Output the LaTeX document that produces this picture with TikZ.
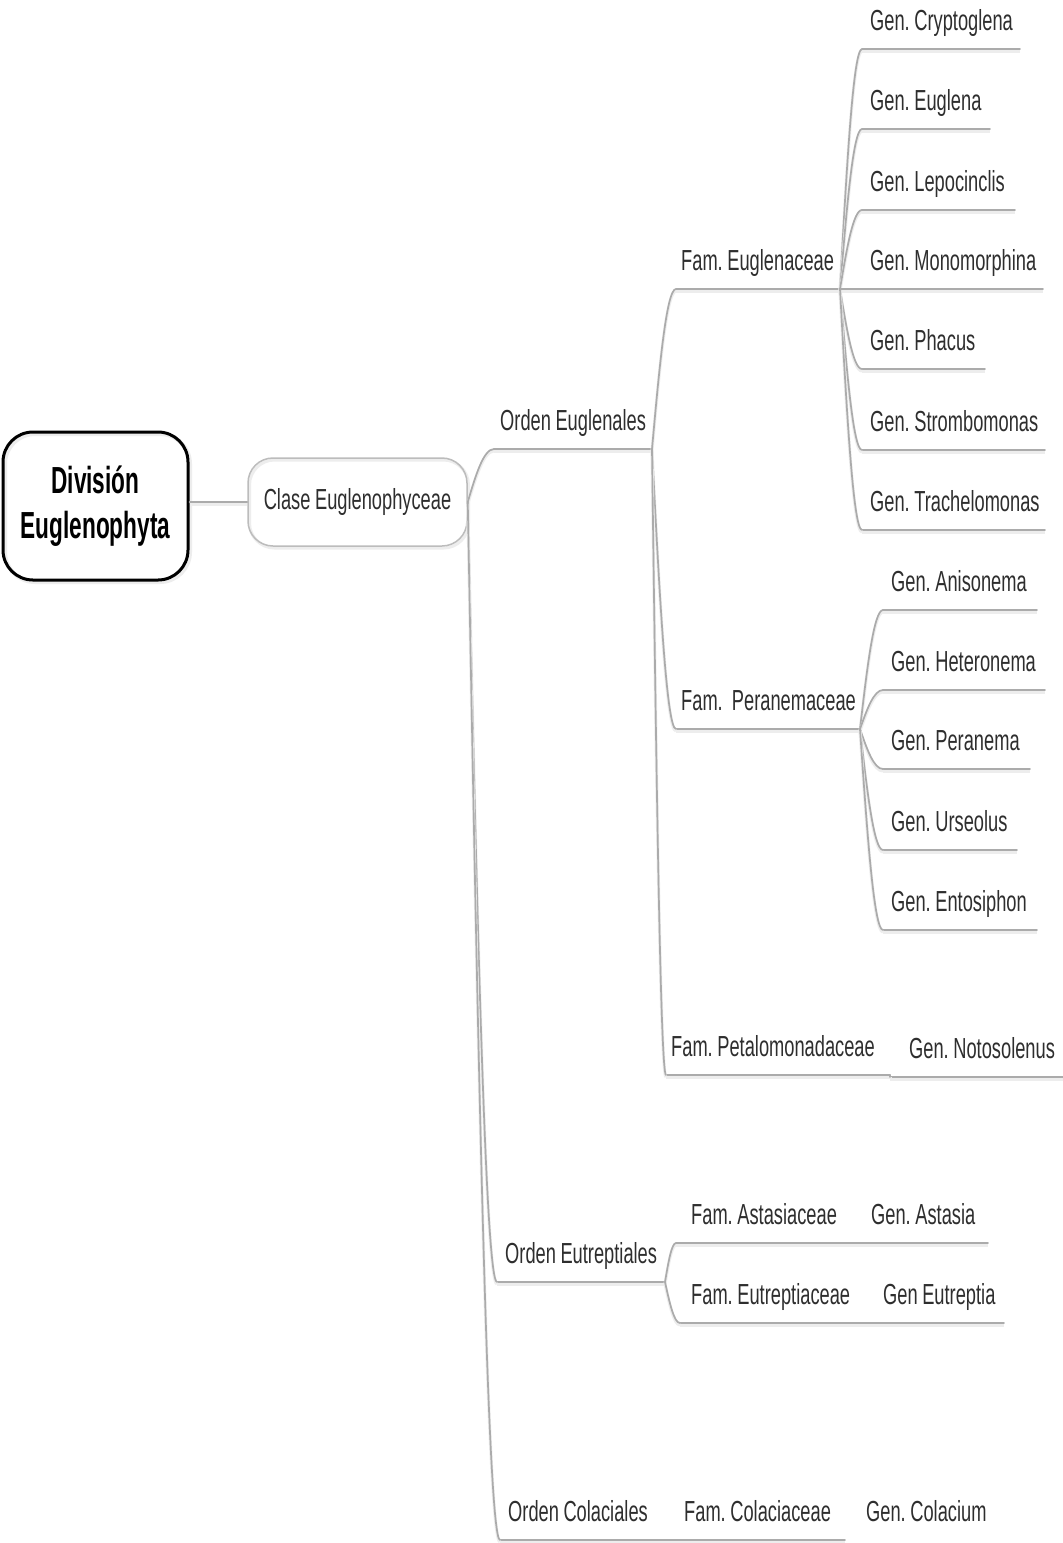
\documentclass[tikz,border=0pt]{standalone}
\usepackage{fontspec}
\usetikzlibrary{calc}
\newfontfamily\mmfont[FakeStretch=0.63,WordSpace=0.9]{Liberation Sans}
\newfontfamily\mmbold[FakeStretch=0.6]{Liberation Sans Bold}
\definecolor{mmline}{HTML}{ABABAB}
\definecolor{mmtext}{HTML}{2E2E2E}
\definecolor{mmshadow}{HTML}{EDEDED}
\frenchspacing
\newcommand\mmtopic[6]{%
  \node[topic] (#1) at (#2,#3-19) {#6};
  \coordinate (#1-l) at (#4,#3);
  \coordinate (#1-r) at (#5,#3);
  \draw[uline] (#1-l) -- (#1-r);}
\newcommand\mmconn[2]{%
  \draw[uline] let \p1=(#1), \p2=(#2) in
    (\p1) .. controls ({\x1+0.3*(\x2-\x1)},{\y1+0.5*(\y2-\y1)})
          and ({\x1+0.6*(\x2-\x1)},{\y2}) .. (\p2);}
\begin{document}
\begin{tikzpicture}[x=1pt,y=-1pt,
  topic/.style={anchor=base west,inner sep=0pt,text=mmtext,
    font=\mmfont\fontsize{29}{34}\selectfont\frenchspacing},
  uline/.style={draw=mmline,line width=1.7pt,line cap=round,
    preaction={draw=mmshadow,line width=3pt,transform canvas={yshift=-2pt}}},
  rootbox/.style={draw=black,line width=3pt,rounded corners=30pt,
    minimum width=185pt,minimum height=148pt,align=center,
    font=\mmbold\fontsize{37.7}{45}\selectfont,
    preaction={draw=mmshadow,line width=4pt,transform canvas={xshift=2pt,yshift=-2pt}}},
  clasebox/.style={draw=mmline!80,line width=1.5pt,rounded corners=25pt,
    minimum width=219pt,minimum height=88pt,text=mmtext,
    font=\mmfont\fontsize{29}{34}\selectfont\frenchspacing,
    preaction={draw=mmshadow,line width=3pt,transform canvas={xshift=1.5pt,yshift=-2pt}}}]
\useasboundingbox[fill=white] (0,0) rectangle (1063,1543);

% root and class
\node[rootbox] (root) at (95.5,506) {Divisi\'on\\Euglenophyta};
\node[clasebox] (clase) at (357.5,502) {Clase Euglenophyceae};
\draw[uline] (root.east |- clase.west) -- (clase.west);

% orders
\mmtopic{eugl}{500}{449}{494}{652}{Orden Euglenales}
\mmtopic{eutr}{505}{1282}{497}{665}{Orden Eutreptiales}
\mmtopic{cola}{508}{1540}{500}{660}{Orden Colaciales}
\mmconn{clase.east}{eugl-l}
\mmconn{clase.east}{eutr-l}
\mmconn{clase.east}{cola-l}

% families of Euglenales
\mmtopic{eugna}{681}{289}{676}{840}{Fam. Euglenaceae}
\mmtopic{peran}{681}{729}{676}{860}{Fam.\ \ Peranemaceae}
\mmtopic{petal}{671}{1075}{666}{890}{Fam. Petalomonadaceae}
\mmconn{eugl-r}{eugna-l}
\mmconn{eugl-r}{peran-l}
\mmconn{eugl-r}{petal-l}

% genera of Euglenaceae
\mmtopic{cryp}{870}{49}{862}{1020}{Gen. Cryptoglena}
\mmtopic{eugg}{870}{129}{862}{990}{Gen. Euglena}
\mmtopic{lepo}{870}{210}{862}{1015}{Gen. Lepocinclis}
\mmtopic{mono}{870}{289}{845}{1043}{Gen. Monomorphina}
\mmtopic{phac}{870}{369}{862}{985}{Gen. Phacus}
\mmtopic{stro}{870}{450}{862}{1045}{Gen. Strombomonas}
\mmtopic{trac}{870}{530}{862}{1045}{Gen. Trachelomonas}
\foreach \g in {cryp,eugg,lepo,mono,phac,stro,trac}{\mmconn{eugna-r}{\g-l}}

% genera of Peranemaceae
\mmtopic{anis}{891}{610}{883}{1037}{Gen. Anisonema}
\mmtopic{hete}{891}{690}{883}{1045}{Gen. Heteronema}
\mmtopic{pera}{891}{769}{883}{1030}{Gen. Peranema}
\mmtopic{urse}{891}{850}{883}{1017}{Gen. Urseolus}
\mmtopic{ento}{891}{930}{883}{1037}{Gen. Entosiphon}
\foreach \g in {anis,hete,pera,urse,ento}{\mmconn{peran-r}{\g-l}}

% Petalomonadaceae
\mmtopic{noto}{909}{1077}{890}{1063}{Gen. Notosolenus}
\mmconn{petal-r}{noto-l}

% Eutreptiales
\mmtopic{asta}{691}{1243}{676}{860}{Fam. Astasiaceae}
\mmtopic{eutf}{691}{1323}{680}{860}{Fam. Eutreptiaceae}
\mmconn{eutr-r}{asta-l}
\mmconn{eutr-r}{eutf-l}
\mmtopic{astg}{871}{1243}{860}{988}{Gen. Astasia}
\mmtopic{eutg}{883}{1323}{860}{1004}{Gen Eutreptia}
\mmconn{asta-r}{astg-l}
\mmconn{eutf-r}{eutg-l}

% Colaciales
\mmtopic{colf}{684}{1540}{660}{845}{Fam. Colaciaceae}
\mmconn{cola-r}{colf-l}
\node[topic] (colg) at (866,1521) {Gen. Colacium};
\end{tikzpicture}
\end{document}
